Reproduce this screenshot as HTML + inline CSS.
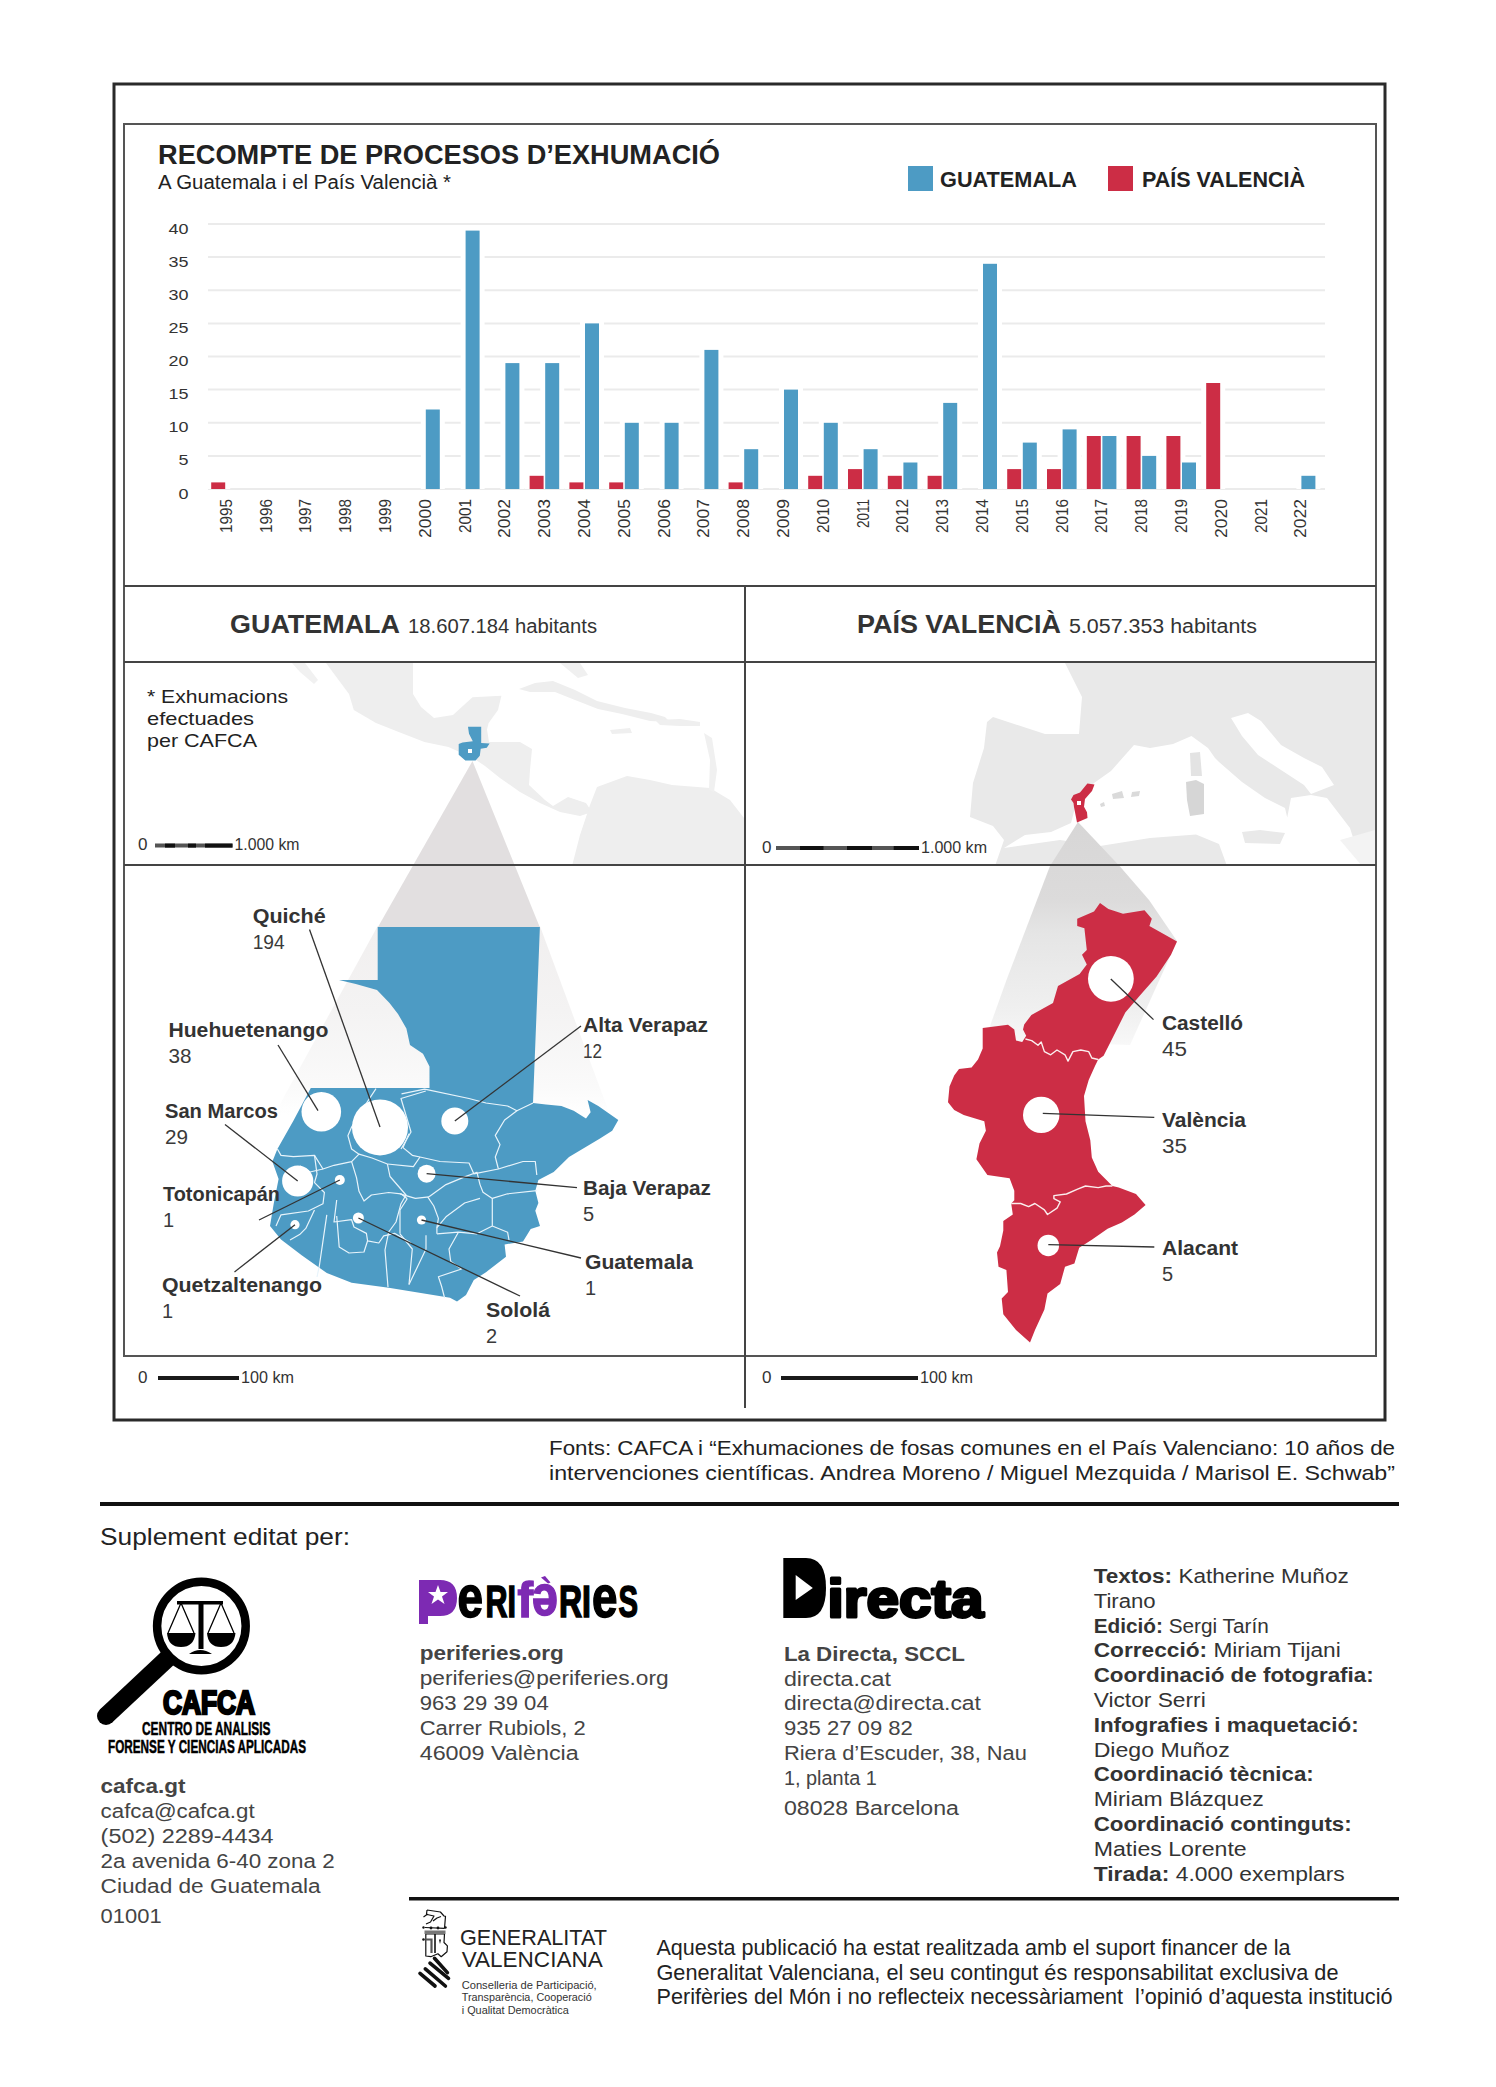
<!DOCTYPE html>
<html><head><meta charset="utf-8"><style>
html,body{margin:0;padding:0;background:#fff;}
svg{display:block;font-family:"Liberation Sans",sans-serif;}
</style></head><body>
<svg width="1496" height="2087" viewBox="0 0 1496 2087">
<rect x="114" y="84" width="1271" height="1336" fill="none" stroke="#2a2a2a" stroke-width="3"/>
<rect x="124" y="124" width="1252" height="1232" fill="none" stroke="#555" stroke-width="2"/>
<line x1="124" y1="586" x2="1376" y2="586" stroke="#444" stroke-width="2"/>
<line x1="124" y1="662" x2="1376" y2="662" stroke="#444" stroke-width="2"/>
<line x1="124" y1="865" x2="1376" y2="865" stroke="#444" stroke-width="2"/>
<line x1="745" y1="586" x2="745" y2="1408" stroke="#444" stroke-width="2"/>
<text x="158" y="164" font-size="27" font-weight="bold" fill="#222" textLength="562" lengthAdjust="spacingAndGlyphs">RECOMPTE DE PROCESOS D’EXHUMACIÓ</text>
<text x="158" y="189" font-size="20" fill="#222" textLength="293" lengthAdjust="spacingAndGlyphs">A Guatemala i el País Valencià *</text>
<rect x="908" y="166" width="25" height="25" fill="#4d9bc4"/>
<text x="940" y="187" font-size="22" font-weight="bold" fill="#222" textLength="137" lengthAdjust="spacingAndGlyphs">GUATEMALA</text>
<rect x="1108" y="166" width="25" height="25" fill="#cc2d45"/>
<text x="1142" y="187" font-size="22" font-weight="bold" fill="#222" textLength="163" lengthAdjust="spacingAndGlyphs">PAÍS VALENCIÀ</text>
<line x1="208" y1="489.0" x2="1325" y2="489.0" stroke="#ebebeb" stroke-width="2"/>
<text x="188.5" y="498.5" font-size="15.5" text-anchor="end" fill="#333" textLength="10" lengthAdjust="spacingAndGlyphs">0</text>
<line x1="208" y1="455.9" x2="1325" y2="455.9" stroke="#ebebeb" stroke-width="2"/>
<text x="188.5" y="465.4" font-size="15.5" text-anchor="end" fill="#333" textLength="10" lengthAdjust="spacingAndGlyphs">5</text>
<line x1="208" y1="422.8" x2="1325" y2="422.8" stroke="#ebebeb" stroke-width="2"/>
<text x="188.5" y="432.2" font-size="15.5" text-anchor="end" fill="#333" textLength="20" lengthAdjust="spacingAndGlyphs">10</text>
<line x1="208" y1="389.6" x2="1325" y2="389.6" stroke="#ebebeb" stroke-width="2"/>
<text x="188.5" y="399.1" font-size="15.5" text-anchor="end" fill="#333" textLength="20" lengthAdjust="spacingAndGlyphs">15</text>
<line x1="208" y1="356.5" x2="1325" y2="356.5" stroke="#ebebeb" stroke-width="2"/>
<text x="188.5" y="366.0" font-size="15.5" text-anchor="end" fill="#333" textLength="20" lengthAdjust="spacingAndGlyphs">20</text>
<line x1="208" y1="323.4" x2="1325" y2="323.4" stroke="#ebebeb" stroke-width="2"/>
<text x="188.5" y="332.9" font-size="15.5" text-anchor="end" fill="#333" textLength="20" lengthAdjust="spacingAndGlyphs">25</text>
<line x1="208" y1="290.2" x2="1325" y2="290.2" stroke="#ebebeb" stroke-width="2"/>
<text x="188.5" y="299.8" font-size="15.5" text-anchor="end" fill="#333" textLength="20" lengthAdjust="spacingAndGlyphs">30</text>
<line x1="208" y1="257.1" x2="1325" y2="257.1" stroke="#ebebeb" stroke-width="2"/>
<text x="188.5" y="266.6" font-size="15.5" text-anchor="end" fill="#333" textLength="20" lengthAdjust="spacingAndGlyphs">35</text>
<line x1="208" y1="224.0" x2="1325" y2="224.0" stroke="#ebebeb" stroke-width="2"/>
<text x="188.5" y="233.5" font-size="15.5" text-anchor="end" fill="#333" textLength="20" lengthAdjust="spacingAndGlyphs">40</text>
<rect x="206.2" y="477.4" width="24" height="11.6" fill="#fff"/>
<rect x="420.8" y="404.5" width="24" height="84.5" fill="#fff"/>
<rect x="460.6" y="225.6" width="24" height="263.4" fill="#fff"/>
<rect x="500.4" y="358.1" width="24" height="130.9" fill="#fff"/>
<rect x="524.6" y="470.8" width="24" height="18.2" fill="#fff"/>
<rect x="540.2" y="358.1" width="24" height="130.9" fill="#fff"/>
<rect x="564.4" y="477.4" width="24" height="11.6" fill="#fff"/>
<rect x="580.0" y="318.4" width="24" height="170.6" fill="#fff"/>
<rect x="604.2" y="477.4" width="24" height="11.6" fill="#fff"/>
<rect x="619.8" y="417.8" width="24" height="71.2" fill="#fff"/>
<rect x="659.6" y="417.8" width="24" height="71.2" fill="#fff"/>
<rect x="699.4" y="344.9" width="24" height="144.1" fill="#fff"/>
<rect x="723.6" y="477.4" width="24" height="11.6" fill="#fff"/>
<rect x="739.2" y="444.2" width="24" height="44.8" fill="#fff"/>
<rect x="779.0" y="384.6" width="24" height="104.4" fill="#fff"/>
<rect x="803.2" y="470.8" width="24" height="18.2" fill="#fff"/>
<rect x="818.8" y="417.8" width="24" height="71.2" fill="#fff"/>
<rect x="843.0" y="464.1" width="24" height="24.9" fill="#fff"/>
<rect x="858.6" y="444.2" width="24" height="44.8" fill="#fff"/>
<rect x="882.8" y="470.8" width="24" height="18.2" fill="#fff"/>
<rect x="898.4" y="457.5" width="24" height="31.5" fill="#fff"/>
<rect x="922.6" y="470.8" width="24" height="18.2" fill="#fff"/>
<rect x="938.2" y="397.9" width="24" height="91.1" fill="#fff"/>
<rect x="978.0" y="258.8" width="24" height="230.2" fill="#fff"/>
<rect x="1002.2" y="464.1" width="24" height="24.9" fill="#fff"/>
<rect x="1017.8" y="437.6" width="24" height="51.4" fill="#fff"/>
<rect x="1042.0" y="464.1" width="24" height="24.9" fill="#fff"/>
<rect x="1057.6" y="424.4" width="24" height="64.6" fill="#fff"/>
<rect x="1081.8" y="431.0" width="24" height="58.0" fill="#fff"/>
<rect x="1097.4" y="431.0" width="24" height="58.0" fill="#fff"/>
<rect x="1121.6" y="431.0" width="24" height="58.0" fill="#fff"/>
<rect x="1137.2" y="450.9" width="24" height="38.1" fill="#fff"/>
<rect x="1161.4" y="431.0" width="24" height="58.0" fill="#fff"/>
<rect x="1177.0" y="457.5" width="24" height="31.5" fill="#fff"/>
<rect x="1201.2" y="378.0" width="24" height="111.0" fill="#fff"/>
<rect x="1296.4" y="470.8" width="24" height="18.2" fill="#fff"/>
<rect x="211.2" y="482.4" width="14" height="6.6" fill="#cc2d45"/>
<rect x="425.8" y="409.5" width="14" height="79.5" fill="#4d9bc4"/>
<rect x="465.6" y="230.6" width="14" height="258.4" fill="#4d9bc4"/>
<rect x="505.4" y="363.1" width="14" height="125.9" fill="#4d9bc4"/>
<rect x="529.6" y="475.8" width="14" height="13.2" fill="#cc2d45"/>
<rect x="545.2" y="363.1" width="14" height="125.9" fill="#4d9bc4"/>
<rect x="569.4" y="482.4" width="14" height="6.6" fill="#cc2d45"/>
<rect x="585.0" y="323.4" width="14" height="165.6" fill="#4d9bc4"/>
<rect x="609.2" y="482.4" width="14" height="6.6" fill="#cc2d45"/>
<rect x="624.8" y="422.8" width="14" height="66.2" fill="#4d9bc4"/>
<rect x="664.6" y="422.8" width="14" height="66.2" fill="#4d9bc4"/>
<rect x="704.4" y="349.9" width="14" height="139.1" fill="#4d9bc4"/>
<rect x="728.6" y="482.4" width="14" height="6.6" fill="#cc2d45"/>
<rect x="744.2" y="449.2" width="14" height="39.8" fill="#4d9bc4"/>
<rect x="784.0" y="389.6" width="14" height="99.4" fill="#4d9bc4"/>
<rect x="808.2" y="475.8" width="14" height="13.2" fill="#cc2d45"/>
<rect x="823.8" y="422.8" width="14" height="66.2" fill="#4d9bc4"/>
<rect x="848.0" y="469.1" width="14" height="19.9" fill="#cc2d45"/>
<rect x="863.6" y="449.2" width="14" height="39.8" fill="#4d9bc4"/>
<rect x="887.8" y="475.8" width="14" height="13.2" fill="#cc2d45"/>
<rect x="903.4" y="462.5" width="14" height="26.5" fill="#4d9bc4"/>
<rect x="927.6" y="475.8" width="14" height="13.2" fill="#cc2d45"/>
<rect x="943.2" y="402.9" width="14" height="86.1" fill="#4d9bc4"/>
<rect x="983.0" y="263.8" width="14" height="225.2" fill="#4d9bc4"/>
<rect x="1007.2" y="469.1" width="14" height="19.9" fill="#cc2d45"/>
<rect x="1022.8" y="442.6" width="14" height="46.4" fill="#4d9bc4"/>
<rect x="1047.0" y="469.1" width="14" height="19.9" fill="#cc2d45"/>
<rect x="1062.6" y="429.4" width="14" height="59.6" fill="#4d9bc4"/>
<rect x="1086.8" y="436.0" width="14" height="53.0" fill="#cc2d45"/>
<rect x="1102.4" y="436.0" width="14" height="53.0" fill="#4d9bc4"/>
<rect x="1126.6" y="436.0" width="14" height="53.0" fill="#cc2d45"/>
<rect x="1142.2" y="455.9" width="14" height="33.1" fill="#4d9bc4"/>
<rect x="1166.4" y="436.0" width="14" height="53.0" fill="#cc2d45"/>
<rect x="1182.0" y="462.5" width="14" height="26.5" fill="#4d9bc4"/>
<rect x="1206.2" y="383.0" width="14" height="106.0" fill="#cc2d45"/>
<rect x="1301.4" y="475.8" width="14" height="13.2" fill="#4d9bc4"/>
<text x="0" y="0" font-size="16.5" text-anchor="end" fill="#333" textLength="34" lengthAdjust="spacingAndGlyphs" transform="translate(231.8,499) rotate(-90)">1995</text>
<text x="0" y="0" font-size="16.5" text-anchor="end" fill="#333" textLength="34" lengthAdjust="spacingAndGlyphs" transform="translate(271.6,499) rotate(-90)">1996</text>
<text x="0" y="0" font-size="16.5" text-anchor="end" fill="#333" textLength="34" lengthAdjust="spacingAndGlyphs" transform="translate(311.4,499) rotate(-90)">1997</text>
<text x="0" y="0" font-size="16.5" text-anchor="end" fill="#333" textLength="34" lengthAdjust="spacingAndGlyphs" transform="translate(351.2,499) rotate(-90)">1998</text>
<text x="0" y="0" font-size="16.5" text-anchor="end" fill="#333" textLength="34" lengthAdjust="spacingAndGlyphs" transform="translate(391.0,499) rotate(-90)">1999</text>
<text x="0" y="0" font-size="16.5" text-anchor="end" fill="#333" textLength="39" lengthAdjust="spacingAndGlyphs" transform="translate(430.8,499) rotate(-90)">2000</text>
<text x="0" y="0" font-size="16.5" text-anchor="end" fill="#333" textLength="34" lengthAdjust="spacingAndGlyphs" transform="translate(470.6,499) rotate(-90)">2001</text>
<text x="0" y="0" font-size="16.5" text-anchor="end" fill="#333" textLength="39" lengthAdjust="spacingAndGlyphs" transform="translate(510.4,499) rotate(-90)">2002</text>
<text x="0" y="0" font-size="16.5" text-anchor="end" fill="#333" textLength="39" lengthAdjust="spacingAndGlyphs" transform="translate(550.2,499) rotate(-90)">2003</text>
<text x="0" y="0" font-size="16.5" text-anchor="end" fill="#333" textLength="39" lengthAdjust="spacingAndGlyphs" transform="translate(590.0,499) rotate(-90)">2004</text>
<text x="0" y="0" font-size="16.5" text-anchor="end" fill="#333" textLength="39" lengthAdjust="spacingAndGlyphs" transform="translate(629.8,499) rotate(-90)">2005</text>
<text x="0" y="0" font-size="16.5" text-anchor="end" fill="#333" textLength="39" lengthAdjust="spacingAndGlyphs" transform="translate(669.6,499) rotate(-90)">2006</text>
<text x="0" y="0" font-size="16.5" text-anchor="end" fill="#333" textLength="39" lengthAdjust="spacingAndGlyphs" transform="translate(709.4,499) rotate(-90)">2007</text>
<text x="0" y="0" font-size="16.5" text-anchor="end" fill="#333" textLength="39" lengthAdjust="spacingAndGlyphs" transform="translate(749.2,499) rotate(-90)">2008</text>
<text x="0" y="0" font-size="16.5" text-anchor="end" fill="#333" textLength="39" lengthAdjust="spacingAndGlyphs" transform="translate(789.0,499) rotate(-90)">2009</text>
<text x="0" y="0" font-size="16.5" text-anchor="end" fill="#333" textLength="34" lengthAdjust="spacingAndGlyphs" transform="translate(828.8,499) rotate(-90)">2010</text>
<text x="0" y="0" font-size="16.5" text-anchor="end" fill="#333" textLength="29" lengthAdjust="spacingAndGlyphs" transform="translate(868.6,499) rotate(-90)">2011</text>
<text x="0" y="0" font-size="16.5" text-anchor="end" fill="#333" textLength="34" lengthAdjust="spacingAndGlyphs" transform="translate(908.4,499) rotate(-90)">2012</text>
<text x="0" y="0" font-size="16.5" text-anchor="end" fill="#333" textLength="34" lengthAdjust="spacingAndGlyphs" transform="translate(948.2,499) rotate(-90)">2013</text>
<text x="0" y="0" font-size="16.5" text-anchor="end" fill="#333" textLength="34" lengthAdjust="spacingAndGlyphs" transform="translate(988.0,499) rotate(-90)">2014</text>
<text x="0" y="0" font-size="16.5" text-anchor="end" fill="#333" textLength="34" lengthAdjust="spacingAndGlyphs" transform="translate(1027.8,499) rotate(-90)">2015</text>
<text x="0" y="0" font-size="16.5" text-anchor="end" fill="#333" textLength="34" lengthAdjust="spacingAndGlyphs" transform="translate(1067.6,499) rotate(-90)">2016</text>
<text x="0" y="0" font-size="16.5" text-anchor="end" fill="#333" textLength="34" lengthAdjust="spacingAndGlyphs" transform="translate(1107.4,499) rotate(-90)">2017</text>
<text x="0" y="0" font-size="16.5" text-anchor="end" fill="#333" textLength="34" lengthAdjust="spacingAndGlyphs" transform="translate(1147.2,499) rotate(-90)">2018</text>
<text x="0" y="0" font-size="16.5" text-anchor="end" fill="#333" textLength="34" lengthAdjust="spacingAndGlyphs" transform="translate(1187.0,499) rotate(-90)">2019</text>
<text x="0" y="0" font-size="16.5" text-anchor="end" fill="#333" textLength="39" lengthAdjust="spacingAndGlyphs" transform="translate(1226.8,499) rotate(-90)">2020</text>
<text x="0" y="0" font-size="16.5" text-anchor="end" fill="#333" textLength="34" lengthAdjust="spacingAndGlyphs" transform="translate(1266.6,499) rotate(-90)">2021</text>
<text x="0" y="0" font-size="16.5" text-anchor="end" fill="#333" textLength="39" lengthAdjust="spacingAndGlyphs" transform="translate(1306.4,499) rotate(-90)">2022</text>
<text x="230" y="633" font-size="26" font-weight="bold" fill="#333" textLength="170" lengthAdjust="spacingAndGlyphs">GUATEMALA</text>
<text x="408" y="633" font-size="20" fill="#333" textLength="189" lengthAdjust="spacingAndGlyphs">18.607.184 habitants</text>
<text x="857" y="633" font-size="26" font-weight="bold" fill="#333" textLength="204" lengthAdjust="spacingAndGlyphs">PAÍS VALENCIÀ</text>
<text x="1069" y="633" font-size="20" fill="#333" textLength="188" lengthAdjust="spacingAndGlyphs">5.057.353 habitants</text>
<defs><clipPath id="cl"><rect x="125" y="663" width="619" height="201"/></clipPath><clipPath id="cr"><rect x="746" y="663" width="629" height="201"/></clipPath><linearGradient id="gg" x1="0" y1="927" x2="0" y2="1115" gradientUnits="userSpaceOnUse"><stop offset="0" stop-color="#f1efef"/><stop offset="0.45" stop-color="#f4f3f3"/><stop offset="0.85" stop-color="#fafafa"/><stop offset="1" stop-color="#ffffff"/></linearGradient><linearGradient id="gv" x1="0" y1="822" x2="0" y2="1045" gradientUnits="userSpaceOnUse"><stop offset="0" stop-color="#d7d6d6"/><stop offset="0.35" stop-color="#dcdbdb"/><stop offset="0.5" stop-color="#e5e5e5"/><stop offset="0.85" stop-color="#f0f0f0"/><stop offset="1" stop-color="#f8f8f8"/></linearGradient></defs>
<g clip-path="url(#cl)">
<polygon points="292.0,663.0 305.0,663.0 318.0,680.0 314.0,684.0 300.0,672.0" fill="#f1f1f1"/>
<polygon points="326.0,663.0 413.0,663.0 413.0,694.0 421.0,707.0 434.0,718.0 453.0,715.0 472.5,697.3 501.4,695.7 498.0,710.0 488.6,723.0 487.0,729.4 489.0,742.0 484.0,750.0 470.0,754.0 459.7,752.0 448.5,747.0 424.4,742.0 400.0,732.6 376.0,723.0 353.8,710.0 349.0,694.0" fill="#eeeeee"/>
<polygon points="480.0,742.0 500.0,742.0 520.0,742.0 532.0,749.0 530.0,770.0 529.0,785.0 545.0,800.0 553.0,806.0 568.0,797.0 586.0,803.0 592.0,812.0 580.0,816.0 560.0,812.0 540.0,803.0 520.0,792.0 500.0,778.0 485.0,766.0 476.0,760.0" fill="#eeeeee"/>
<polygon points="572.0,866.0 580.0,835.0 590.0,805.0 597.0,787.0 627.0,776.0 650.0,780.0 672.0,785.0 710.0,788.0 730.0,800.0 744.0,818.0 745.0,866.0" fill="#eeeeee"/>
<polygon points="519.0,689.0 535.0,683.0 553.0,681.0 575.0,690.0 597.0,701.0 625.0,708.0 651.0,713.0 665.0,717.0 670.0,722.0 650.0,721.0 622.0,714.0 598.0,709.0 575.0,700.0 555.0,692.0 530.0,692.0" fill="#eeeeee"/>
<polygon points="655.0,720.0 680.0,719.0 700.0,722.0 700.0,726.0 680.0,726.0 660.0,725.0" fill="#efefef"/>
<polygon points="610.0,730.0 630.0,728.0 632.0,733.0 612.0,734.0" fill="#efefef"/>
<polygon points="560.0,663.0 580.0,663.0 588.0,675.0 578.0,678.0" fill="#f0f0f0"/>
<polygon points="704.0,733.0 712.0,738.0 717.0,770.0 714.0,792.0 709.0,790.0 710.0,760.0" fill="#f0f0f0"/>
</g>
<g clip-path="url(#cr)">
<rect x="746" y="663" width="629" height="203" fill="#e9e9e9"/>
<polygon points="746.0,663.0 1065.0,663.0 1082.0,697.0 1079.0,734.0 1045.0,734.0 993.0,717.0 987.0,722.0 984.0,748.0 973.0,783.0 970.0,817.0 993.0,826.0 1004.0,840.0 995.0,866.0 746.0,866.0" fill="#ffffff"/>
<polygon points="1004.0,848.0 1025.0,835.0 1051.0,832.0 1071.0,823.0 1077.0,800.0 1094.0,783.0 1111.0,771.0 1134.0,745.0 1150.0,748.0 1173.0,744.0 1191.5,736.0 1208.0,748.0 1215.0,758.0 1219.0,762.0 1242.0,782.0 1265.0,798.0 1285.0,808.0 1288.0,821.0 1284.0,834.0 1291.0,798.0 1311.0,795.0 1327.0,798.0 1350.0,828.0 1362.0,866.0 1227.0,866.0 1219.0,844.0 1196.0,834.5 1150.0,838.0 1100.0,846.0 1060.0,840.0" fill="#ffffff"/>
<polygon points="1231.0,718.0 1248.0,713.0 1261.0,721.0 1281.0,745.0 1304.0,758.0 1322.0,767.0 1334.0,785.0 1311.0,794.0 1304.0,785.0 1281.0,770.0 1258.0,755.0 1242.0,736.0" fill="#ffffff"/>
<polygon points="1362.0,866.0 1340.0,840.0 1375.0,830.0 1375.0,866.0" fill="#f3f3f3"/>
<polygon points="1242.0,832.0 1260.0,830.0 1285.0,833.0 1280.0,844.0 1245.0,843.0" fill="#e9e9e9"/>
<polygon points="1190.0,753.0 1200.0,752.0 1202.0,776.0 1191.0,776.0" fill="#e3e3e3"/>
<polygon points="1186.0,782.0 1196.0,780.0 1204.0,784.0 1204.0,814.0 1190.0,816.0 1187.0,800.0" fill="#d6d6d6"/>
<polygon points="1112.0,794.0 1122.0,791.0 1124.0,798.0 1113.0,799.0" fill="#dadada"/>
<polygon points="1132.0,792.0 1140.0,791.0 1139.0,796.0 1131.0,797.0" fill="#dadada"/>
<polygon points="1100.0,804.0 1104.0,802.0 1105.0,806.0 1101.0,807.0" fill="#dadada"/>
</g>
<polygon points="377.7,926 274,1115 610,1115 539.9,926" fill="url(#gg)"/><polygon points="472.5,761 377.7,927.5 539.9,927.5" fill="#e2dfe0"/>
<polygon points="1078,822 1120,866.5 1149,900 1177,941 1130,1045 985,1040 1006.5,980 1050,866" fill="url(#gv)"/>
<line x1="124" y1="865" x2="1376" y2="865" stroke="#444" stroke-width="2"/>
<path d="M468,726.7 L481.2,726.7 L481.2,743 L489.6,743.5 L486.8,747.8 L480.7,748.7 L479.8,755.7 L475.6,760.5 L465.3,760.5 L458.7,754.8 L458.7,744 L462.5,742.6 L472.8,741.2 L469,733.7 Z" fill="#4d9bc4"/>
<rect x="468" y="749" width="4" height="4" fill="#fff"/>
<path d="M1087.4,783.5 L1094.5,784.5 L1092,791 L1085,799 L1084,806.8 L1087,812.3 L1087.5,818 L1077,822.5 L1074,807 L1073.5,803 L1071,799.4 L1073.5,795 L1080,792.5 Z" fill="#cc2d45"/>
<rect x="1077" y="801" width="4" height="4" fill="#fff"/>
<path d="M377.7,927.0 L539.9,927.0 L533.0,1103.0 L546.0,1104.6 L561.4,1106.0 L573.7,1110.7 L586.0,1118.4 L590.6,1112.3 L587.6,1100.0 L598.3,1106.0 L618.3,1120.0 L612.2,1130.7 L600.0,1138.4 L584.5,1147.7 L569.0,1157.0 L553.7,1172.0 L538.4,1180.0 L535.3,1190.7 L538.4,1203.0 L535.3,1210.7 L540.0,1226.0 L530.7,1229.0 L523.0,1241.4 L504.6,1244.5 L506.0,1256.8 L486.0,1272.2 L473.8,1280.0 L466.0,1295.0 L457.0,1301.4 L450.0,1297.7 L388.7,1287.8 L351.6,1282.8 L326.8,1273.0 L302.0,1255.6 L281.0,1239.5 L270.0,1226.0 L273.7,1203.7 L278.6,1179.0 L272.4,1161.6 L277.4,1149.0 L293.4,1120.8 L310.8,1088.0 L429.5,1088.0 L429.5,1066.4 L423.0,1053.7 L410.0,1045.0 L406.4,1028.4 L398.0,1014.0 L389.5,1003.0 L377.0,990.0 L355.8,984.0 L339.0,980.0 L377.7,980.0 Z" fill="#4d9bc4"/>
<g fill="none" stroke="#e8f4fb" stroke-width="1.2" stroke-linejoin="round">
<polyline points="277.4,1149.0 281.0,1155.4 293.4,1156.7 314.5,1155.4 323.0,1169.0 334.0,1165.3 351.6,1161.6 359.0,1154.2 351.6,1149.0 347.9,1135.7 351.6,1127.0 362.0,1110.0 376.0,1088.7"/>
<polyline points="314.5,1155.4 317.0,1174.0 314.5,1182.6 324.4,1192.5 323.0,1203.7 308.3,1211.0 281.0,1214.8 276.0,1226.0"/>
<polyline points="314.5,1210.0 305.8,1228.4 299.6,1234.6 290.0,1240.0"/>
<polyline points="351.6,1161.6 356.5,1177.7 359.0,1191.3 364.0,1201.0 371.4,1195.0 388.7,1192.5 401.0,1193.8 407.2,1198.7"/>
<polyline points="336.7,1200.0 334.0,1222.0 351.6,1219.7 354.0,1227.0 366.4,1233.4 367.6,1240.8 378.8,1243.0 383.7,1235.8 394.9,1233.4 411.0,1243.0"/>
<polyline points="326.8,1214.8 323.0,1240.8 319.4,1265.5 317.0,1277.0"/>
<polyline points="336.7,1216.0 339.2,1247.0 349.0,1253.0 364.0,1252.0 367.6,1240.8"/>
<polyline points="387.4,1164.0 390.0,1176.5 406.0,1195.0 401.0,1203.7 396.0,1222.0 388.7,1232.0 385.0,1250.0 388.0,1287.0"/>
<polyline points="387.4,1164.0 413.4,1166.6 420.0,1157.0"/>
<polyline points="401.0,1149.0 411.0,1132.0 401.0,1098.5 425.8,1091.0"/>
<polyline points="323.0,1169.0 310.0,1172.0 300.0,1166.0"/>
<polyline points="359.0,1154.2 372.0,1158.0 387.4,1164.0"/>
<polyline points="401.5,1093.8 424.6,1089.2 469.0,1098.5 486.0,1103.0 507.6,1106.0 516.9,1110.7 533.0,1103.0"/>
<polyline points="516.9,1110.7 504.6,1120.0 495.3,1135.4 500.0,1144.6 495.3,1157.0 498.4,1169.0"/>
<polyline points="420.0,1157.0 440.0,1161.5 469.0,1163.0 473.8,1173.8 498.4,1169.0 523.0,1161.5 535.3,1161.5 536.8,1175.0"/>
<polyline points="429.0,1196.8 446.0,1184.6 464.6,1176.9 477.0,1172.3 480.0,1184.6 483.0,1192.2 492.3,1198.4 507.6,1193.8 536.8,1190.7"/>
<polyline points="480.0,1198.4 464.6,1203.0 446.0,1216.8 436.9,1227.6 436.9,1233.8"/>
<polyline points="492.3,1198.4 492.3,1226.0 476.9,1233.8 458.4,1232.2 436.9,1233.8"/>
<polyline points="492.3,1226.0 507.6,1232.2 509.0,1240.0"/>
<polyline points="427.7,1196.8 433.8,1206.0 438.4,1218.4 436.9,1227.6"/>
<polyline points="426.0,1235.3 426.0,1249.0 409.0,1284.5"/>
<polyline points="458.4,1232.2 449.0,1249.0 450.7,1261.4 461.5,1269.0 438.4,1276.8 441.5,1286.0 444.6,1298.0"/>
<polyline points="409.0,1133.8 403.0,1147.6 412.3,1155.3 420.0,1157.0"/>
<polyline points="400.0,1193.8 415.4,1198.4 429.0,1196.8"/>
<polyline points="400.0,1233.8 412.3,1249.0 409.0,1284.5"/>
<polyline points="407.2,1198.7 400.0,1210.0 400.0,1233.8"/>
</g>
<circle cx="321.3" cy="1111.8" r="19.8" fill="#fff"/>
<circle cx="380" cy="1127.4" r="28" fill="#fff"/>
<circle cx="454.8" cy="1121" r="13.5" fill="#fff"/>
<circle cx="297.7" cy="1181" r="15.6" fill="#fff"/>
<circle cx="339.8" cy="1180" r="5" fill="#fff"/>
<circle cx="426.6" cy="1173.7" r="9" fill="#fff"/>
<circle cx="295" cy="1224.7" r="4.6" fill="#fff"/>
<circle cx="358.4" cy="1218" r="5.5" fill="#fff"/>
<circle cx="421.5" cy="1220" r="4.6" fill="#fff"/>
<g stroke="#333" stroke-width="1.3" fill="none">
<line x1="309.5" y1="929.5" x2="380" y2="1127"/>
<line x1="278" y1="1045" x2="318" y2="1110.6"/>
<line x1="581" y1="1026" x2="454.8" y2="1121"/>
<line x1="225" y1="1124.5" x2="297.7" y2="1181"/>
<line x1="259" y1="1220" x2="339.8" y2="1180"/>
<line x1="234.5" y1="1271.9" x2="295" y2="1224.7"/>
<line x1="577" y1="1187.6" x2="426.6" y2="1173.7"/>
<line x1="581" y1="1258" x2="421.5" y2="1220"/>
<line x1="520" y1="1296" x2="358.4" y2="1218"/>
</g>
<path d="M1100.0,903.0 L1108.4,909.0 L1123.0,913.8 L1144.5,910.2 L1151.8,918.7 L1149.4,925.9 L1177.0,941.5 L1171.0,954.8 L1156.6,976.4 L1139.7,995.7 L1125.3,1012.5 L1113.3,1036.6 L1103.6,1055.8 L1098.2,1059.5 L1095.0,1065.9 L1088.7,1080.0 L1084.0,1096.0 L1085.5,1121.2 L1090.3,1140.2 L1091.8,1157.6 L1098.2,1171.8 L1112.4,1186.0 L1118.7,1187.6 L1136.0,1194.0 L1145.6,1205.0 L1134.5,1214.5 L1121.9,1222.4 L1107.6,1228.8 L1091.8,1239.8 L1079.2,1247.7 L1074.4,1263.6 L1065.0,1266.7 L1060.2,1284.0 L1047.5,1293.6 L1044.4,1309.4 L1035.0,1330.0 L1030.0,1342.6 L1016.0,1330.0 L1003.3,1314.2 L1001.7,1298.4 L1008.0,1292.0 L1006.4,1270.0 L998.5,1266.7 L997.0,1252.5 L1000.0,1246.2 L1003.3,1230.4 L1003.3,1220.9 L1012.8,1214.5 L1011.2,1203.5 L1014.3,1200.3 L1014.3,1190.8 L1009.6,1178.2 L987.4,1175.0 L976.4,1159.2 L979.5,1143.4 L985.9,1130.7 L984.3,1121.2 L963.7,1115.0 L954.2,1110.0 L948.0,1102.2 L949.5,1086.4 L954.2,1075.4 L959.0,1069.0 L971.6,1067.4 L978.0,1059.5 L982.7,1048.5 L982.7,1027.9 L1008.0,1024.7 L1014.3,1029.5 L1016.0,1040.6 L1022.2,1042.0 L1026.2,1035.8 L1023.0,1029.4 L1024.2,1024.5 L1031.4,1015.0 L1053.0,1003.0 L1058.0,986.0 L1079.6,974.0 L1086.8,964.4 L1082.0,954.8 L1086.8,950.0 L1084.4,928.3 L1077.2,925.9 L1077.2,918.7 L1094.0,911.4 Z" fill="#cc2d45"/>
<g fill="none" stroke="#fbeeee" stroke-width="1.4" stroke-linejoin="round">
<polyline points="1025.4,1039.0 1031.7,1040.6 1038.0,1045.3 1041.2,1042.0 1044.4,1051.6 1050.7,1054.8 1057.0,1050.0 1065.0,1054.8 1068.0,1061.1 1072.9,1051.6 1080.8,1050.0 1088.7,1051.6 1091.8,1058.0 1098.2,1059.5"/>
<polyline points="1011.2,1203.5 1020.7,1203.5 1028.6,1206.6 1034.9,1203.5 1044.4,1209.8 1047.5,1214.5 1057.0,1208.2 1060.2,1201.9 1053.9,1198.7 1053.9,1195.6 1066.5,1194.0 1077.6,1189.2 1085.5,1186.0 1098.2,1187.6 1106.0,1186.0 1112.4,1186.0"/>
</g>
<circle cx="1110.9" cy="978.8" r="22.9" fill="#fff"/>
<circle cx="1041.2" cy="1114.9" r="18.2" fill="#fff"/>
<circle cx="1048.3" cy="1245.4" r="10.75" fill="#fff"/>
<g stroke="#333" stroke-width="1.3" fill="none"><line x1="1110.8" y1="979" x2="1153.5" y2="1019.6"/><line x1="1042.8" y1="1113.3" x2="1154.3" y2="1117.3"/><line x1="1048.3" y1="1244.6" x2="1154.3" y2="1247"/></g>
<text x="252.7" y="923.0" font-size="20" font-weight="bold" fill="#333" textLength="73" lengthAdjust="spacingAndGlyphs">Quiché</text>
<text x="252.7" y="949.0" font-size="20" fill="#3a3a3a" textLength="32" lengthAdjust="spacingAndGlyphs">194</text>
<text x="168.4" y="1037.0" font-size="20" font-weight="bold" fill="#333" textLength="160" lengthAdjust="spacingAndGlyphs">Huehuetenango</text>
<text x="168.4" y="1063.0" font-size="20" fill="#3a3a3a" textLength="23" lengthAdjust="spacingAndGlyphs">38</text>
<text x="165" y="1118.4" font-size="20" font-weight="bold" fill="#333" textLength="113" lengthAdjust="spacingAndGlyphs">San Marcos</text>
<text x="165" y="1144.4" font-size="20" fill="#3a3a3a" textLength="23" lengthAdjust="spacingAndGlyphs">29</text>
<text x="163" y="1201.0" font-size="20" font-weight="bold" fill="#333" textLength="117" lengthAdjust="spacingAndGlyphs">Totonicapán</text>
<text x="163" y="1227.0" font-size="20" fill="#3a3a3a">1</text>
<text x="162" y="1292.0" font-size="20" font-weight="bold" fill="#333" textLength="160" lengthAdjust="spacingAndGlyphs">Quetzaltenango</text>
<text x="162" y="1318.0" font-size="20" fill="#3a3a3a">1</text>
<text x="583" y="1031.6" font-size="20" font-weight="bold" fill="#333" textLength="125" lengthAdjust="spacingAndGlyphs">Alta Verapaz</text>
<text x="583" y="1057.6" font-size="20" fill="#3a3a3a" textLength="19" lengthAdjust="spacingAndGlyphs">12</text>
<text x="583" y="1195.0" font-size="20" font-weight="bold" fill="#333" textLength="128" lengthAdjust="spacingAndGlyphs">Baja Verapaz</text>
<text x="583" y="1221.0" font-size="20" fill="#3a3a3a">5</text>
<text x="585" y="1268.7" font-size="20" font-weight="bold" fill="#333" textLength="108" lengthAdjust="spacingAndGlyphs">Guatemala</text>
<text x="585" y="1294.7" font-size="20" fill="#3a3a3a">1</text>
<text x="486" y="1317.0" font-size="20" font-weight="bold" fill="#333" textLength="64" lengthAdjust="spacingAndGlyphs">Sololá</text>
<text x="486" y="1343.0" font-size="20" fill="#3a3a3a">2</text>
<text x="1162" y="1030.3" font-size="20" font-weight="bold" fill="#333" textLength="81" lengthAdjust="spacingAndGlyphs">Castelló</text>
<text x="1162" y="1056.3" font-size="20" fill="#3a3a3a" textLength="25" lengthAdjust="spacingAndGlyphs">45</text>
<text x="1162" y="1126.5" font-size="20" font-weight="bold" fill="#333" textLength="84" lengthAdjust="spacingAndGlyphs">València</text>
<text x="1162" y="1152.5" font-size="20" fill="#3a3a3a" textLength="25" lengthAdjust="spacingAndGlyphs">35</text>
<text x="1162" y="1255.0" font-size="20" font-weight="bold" fill="#333" textLength="76" lengthAdjust="spacingAndGlyphs">Alacant</text>
<text x="1162" y="1281.0" font-size="20" fill="#3a3a3a">5</text>
<text x="147" y="703" font-size="19" fill="#222" textLength="141" lengthAdjust="spacingAndGlyphs">* Exhumacions</text>
<text x="147" y="725" font-size="19" fill="#222" textLength="107" lengthAdjust="spacingAndGlyphs">efectuades</text>
<text x="147" y="747" font-size="19" fill="#222" textLength="110" lengthAdjust="spacingAndGlyphs">per CAFCA</text>
<text x="138" y="850.4" font-size="16" fill="#333" textLength="9.5" lengthAdjust="spacingAndGlyphs">0</text>
<line x1="155" y1="845.6" x2="232.5" y2="845.6" stroke="#555" stroke-width="4"/>
<line x1="165" y1="845.6" x2="175" y2="845.6" stroke="#111" stroke-width="4"/>
<line x1="188" y1="845.6" x2="196" y2="845.6" stroke="#111" stroke-width="4"/>
<line x1="205" y1="845.6" x2="232.5" y2="845.6" stroke="#111" stroke-width="4"/>
<text x="234.5" y="850.4" font-size="16" fill="#333" textLength="65" lengthAdjust="spacingAndGlyphs">1.000 km</text>
<text x="762" y="852.8" font-size="16" fill="#333" textLength="9.5" lengthAdjust="spacingAndGlyphs">0</text>
<line x1="776" y1="848" x2="919" y2="848" stroke="#555" stroke-width="4"/>
<line x1="800" y1="848" x2="823.5" y2="848" stroke="#111" stroke-width="4"/>
<line x1="847" y1="848" x2="872" y2="848" stroke="#111" stroke-width="4"/>
<line x1="893.7" y1="848" x2="919" y2="848" stroke="#111" stroke-width="4"/>
<text x="921" y="852.8" font-size="16" fill="#333" textLength="66" lengthAdjust="spacingAndGlyphs">1.000 km</text>
<text x="138" y="1382.8" font-size="16" fill="#333" textLength="9.5" lengthAdjust="spacingAndGlyphs">0</text>
<line x1="158" y1="1378" x2="239" y2="1378" stroke="#555" stroke-width="4"/>
<line x1="158" y1="1378" x2="239" y2="1378" stroke="#1a1a1a" stroke-width="4"/>
<text x="241" y="1382.8" font-size="16" fill="#333" textLength="53" lengthAdjust="spacingAndGlyphs">100 km</text>
<text x="762" y="1382.8" font-size="16" fill="#333" textLength="9.5" lengthAdjust="spacingAndGlyphs">0</text>
<line x1="781" y1="1378" x2="918" y2="1378" stroke="#555" stroke-width="4"/>
<line x1="781" y1="1378" x2="918" y2="1378" stroke="#1a1a1a" stroke-width="4"/>
<text x="920" y="1382.8" font-size="16" fill="#333" textLength="53" lengthAdjust="spacingAndGlyphs">100 km</text>
<text x="549" y="1454.8" font-size="21" fill="#222" textLength="846" lengthAdjust="spacingAndGlyphs">Fonts: CAFCA i “Exhumaciones de fosas comunes en el País Valenciano: 10 años de</text>
<text x="549" y="1479.5" font-size="21" fill="#222" textLength="846" lengthAdjust="spacingAndGlyphs">intervenciones científicas. Andrea Moreno / Miguel Mezquida / Marisol E. Schwab”</text>
<rect x="100" y="1502" width="1299" height="4" fill="#111"/>
<text x="100" y="1545" font-size="24" fill="#222" textLength="250" lengthAdjust="spacingAndGlyphs">Suplement editat per:</text>
<g fill="#000"><circle cx="201.4" cy="1626" r="44.3" fill="none" stroke="#000" stroke-width="8.5"/><line x1="169.7" y1="1656.4" x2="106" y2="1716" stroke="#000" stroke-width="18"/><circle cx="106" cy="1716" r="9"/><rect x="177" y="1601" width="46" height="3.5"/><rect x="198.5" y="1602" width="5" height="47"/><path d="M189,1654 Q200,1646 212,1654 Z"/><path d="M167,1633 L195.5,1633 Q194,1647 181,1647 Q168,1647 167,1633 Z"/><path d="M207,1633 L235.5,1633 Q234,1647 221,1647 Q208,1647 207,1633 Z"/></g><g stroke="#000" stroke-width="1.3" fill="none"><path d="M181,1603 L168,1633 M181,1603 L194,1633 M221,1603 L208,1633 M221,1603 L234,1633"/></g>
<text x="163" y="1714" font-size="33" font-weight="bold" fill="#000" textLength="92" lengthAdjust="spacingAndGlyphs" stroke="#000" stroke-width="2.6">CAFCA</text>
<text x="142" y="1735.4" font-size="19" font-weight="bold" fill="#000" textLength="128.5" lengthAdjust="spacingAndGlyphs" stroke="#000" stroke-width="0.5">CENTRO DE ANALISIS</text>
<text x="108" y="1753" font-size="19" font-weight="bold" fill="#000" textLength="198" lengthAdjust="spacingAndGlyphs" stroke="#000" stroke-width="0.5">FORENSE Y CIENCIAS APLICADAS</text>
<text x="100.6" y="1792.7" font-size="20" font-weight="bold" fill="#444" textLength="85" lengthAdjust="spacingAndGlyphs">cafca.gt</text>
<text x="100.6" y="1817.7" font-size="20" fill="#444" textLength="154" lengthAdjust="spacingAndGlyphs">cafca@cafca.gt</text>
<text x="100.6" y="1842.7" font-size="20" fill="#444" textLength="173" lengthAdjust="spacingAndGlyphs">(502) 2289-4434</text>
<text x="100.6" y="1867.7" font-size="20" fill="#444" textLength="234" lengthAdjust="spacingAndGlyphs">2a avenida 6-40 zona 2</text>
<text x="100.6" y="1892.7" font-size="20" fill="#444" textLength="220" lengthAdjust="spacingAndGlyphs">Ciudad de Guatemala</text>
<text x="100.6" y="1923" font-size="20" fill="#444" textLength="61" lengthAdjust="spacingAndGlyphs">01001</text>
<path d="M419,1580 L440,1580 Q457,1580 457,1598 Q457,1616 440,1616 L428,1616 L428,1624 L419,1624 Z" fill="#7d2ab3"/>
<polygon points="438,1585 440.5,1592 448,1592 442,1596.5 444.5,1604 438,1599.5 431.5,1604 434,1596.5 428,1592 435.5,1592" fill="#fff"/>
<text x="457.5" y="1616.5" font-size="60" font-weight="bold" fill="#000" textLength="25.5" lengthAdjust="spacingAndGlyphs" stroke="#000" stroke-width="1.6">e</text>
<text x="485.5" y="1616.5" font-size="45" font-weight="bold" fill="#000" textLength="30.5" lengthAdjust="spacingAndGlyphs" stroke="#000" stroke-width="1.6">RI</text>
<text x="517.5" y="1616.5" font-size="50" font-weight="bold" fill="#7d2ab3" textLength="15.5" lengthAdjust="spacingAndGlyphs" stroke="#7d2ab3" stroke-width="1.6">f</text>
<text x="0" y="0" font-size="58" font-weight="bold" fill="#7d2ab3" textLength="26" lengthAdjust="spacingAndGlyphs" stroke="#7d2ab3" stroke-width="1.6" transform="translate(558,1585) rotate(180)">e</text>
<polygon points="541,1577.5 545,1576 550.5,1582.5 548,1583.5" fill="#7d2ab3"/>
<text x="559" y="1616.5" font-size="45" font-weight="bold" fill="#000" textLength="32" lengthAdjust="spacingAndGlyphs" stroke="#000" stroke-width="1.6">RI</text>
<text x="592" y="1616.5" font-size="60" font-weight="bold" fill="#000" textLength="25.5" lengthAdjust="spacingAndGlyphs" stroke="#000" stroke-width="1.6">e</text>
<text x="618.5" y="1616.5" font-size="45" font-weight="bold" fill="#000" textLength="19.5" lengthAdjust="spacingAndGlyphs" stroke="#000" stroke-width="1.6">S</text>
<text x="419.7" y="1660.0" font-size="20" font-weight="bold" fill="#444" textLength="144" lengthAdjust="spacingAndGlyphs">periferies.org</text>
<text x="419.7" y="1685.0" font-size="20" fill="#444" textLength="249" lengthAdjust="spacingAndGlyphs">periferies@periferies.org</text>
<text x="419.7" y="1710.0" font-size="20" fill="#444" textLength="129" lengthAdjust="spacingAndGlyphs">963 29 39 04</text>
<text x="419.7" y="1735.0" font-size="20" fill="#444" textLength="166" lengthAdjust="spacingAndGlyphs">Carrer Rubiols, 2</text>
<text x="419.7" y="1760.0" font-size="20" fill="#444" textLength="159" lengthAdjust="spacingAndGlyphs">46009 València</text>
<path d="M783.3,1558 L806,1558 Q826,1558 826,1588 Q826,1618 806,1618 L783.3,1618 Z" fill="#000"/>
<polygon points="795.7,1575 812.8,1588 795.7,1600" fill="#fff"/>
<text x="827.5" y="1617" font-size="53" font-weight="bold" fill="#000" textLength="156" lengthAdjust="spacingAndGlyphs" stroke="#000" stroke-width="3" stroke-linejoin="round">irecta</text>
<text x="783.9" y="1661.0" font-size="20" font-weight="bold" fill="#444" textLength="181" lengthAdjust="spacingAndGlyphs">La Directa, SCCL</text>
<text x="783.9" y="1685.7" font-size="20" fill="#444" textLength="107" lengthAdjust="spacingAndGlyphs">directa.cat</text>
<text x="783.9" y="1710.4" font-size="20" fill="#444" textLength="197" lengthAdjust="spacingAndGlyphs">directa@directa.cat</text>
<text x="783.9" y="1735.1" font-size="20" fill="#444" textLength="129" lengthAdjust="spacingAndGlyphs">935 27 09 82</text>
<text x="783.9" y="1759.8" font-size="20" fill="#444" textLength="243" lengthAdjust="spacingAndGlyphs">Riera d’Escuder, 38, Nau</text>
<text x="783.9" y="1784.5" font-size="20" fill="#444" textLength="93" lengthAdjust="spacingAndGlyphs">1, planta 1</text>
<text x="783.9" y="1815" font-size="20" fill="#444" textLength="175" lengthAdjust="spacingAndGlyphs">08028 Barcelona</text>
<text x="1093.7" y="1583.0" font-size="20" fill="#333" textLength="255" lengthAdjust="spacingAndGlyphs" xml:space="preserve"><tspan font-weight="bold">Textos:</tspan><tspan font-weight="normal"> Katherine Muñoz</tspan></text>
<text x="1093.7" y="1607.8" font-size="20" fill="#333" textLength="62" lengthAdjust="spacingAndGlyphs" xml:space="preserve"><tspan font-weight="normal">Tirano</tspan></text>
<text x="1093.7" y="1632.6" font-size="20" fill="#333" textLength="175" lengthAdjust="spacingAndGlyphs" xml:space="preserve"><tspan font-weight="bold">Edició:</tspan><tspan font-weight="normal"> Sergi Tarín</tspan></text>
<text x="1093.7" y="1657.4" font-size="20" fill="#333" textLength="247" lengthAdjust="spacingAndGlyphs" xml:space="preserve"><tspan font-weight="bold">Correcció:</tspan><tspan font-weight="normal"> Miriam Tijani</tspan></text>
<text x="1093.7" y="1682.2" font-size="20" fill="#333" textLength="280" lengthAdjust="spacingAndGlyphs" xml:space="preserve"><tspan font-weight="bold">Coordinació de fotografia:</tspan></text>
<text x="1093.7" y="1707.0" font-size="20" fill="#333" textLength="112" lengthAdjust="spacingAndGlyphs" xml:space="preserve"><tspan font-weight="normal">Victor Serri</tspan></text>
<text x="1093.7" y="1731.8" font-size="20" fill="#333" textLength="265" lengthAdjust="spacingAndGlyphs" xml:space="preserve"><tspan font-weight="bold">Infografies i maquetació:</tspan></text>
<text x="1093.7" y="1756.6" font-size="20" fill="#333" textLength="136" lengthAdjust="spacingAndGlyphs" xml:space="preserve"><tspan font-weight="normal">Diego Muñoz</tspan></text>
<text x="1093.7" y="1781.4" font-size="20" fill="#333" textLength="220" lengthAdjust="spacingAndGlyphs" xml:space="preserve"><tspan font-weight="bold">Coordinació tècnica:</tspan></text>
<text x="1093.7" y="1806.2" font-size="20" fill="#333" textLength="170" lengthAdjust="spacingAndGlyphs" xml:space="preserve"><tspan font-weight="normal">Miriam Blázquez</tspan></text>
<text x="1093.7" y="1831.0" font-size="20" fill="#333" textLength="258" lengthAdjust="spacingAndGlyphs" xml:space="preserve"><tspan font-weight="bold">Coordinació continguts:</tspan></text>
<text x="1093.7" y="1855.8" font-size="20" fill="#333" textLength="153" lengthAdjust="spacingAndGlyphs" xml:space="preserve"><tspan font-weight="normal">Maties Lorente</tspan></text>
<text x="1093.7" y="1880.6" font-size="20" fill="#333" textLength="251" lengthAdjust="spacingAndGlyphs" xml:space="preserve"><tspan font-weight="bold">Tirada:</tspan><tspan font-weight="normal"> 4.000 exemplars</tspan></text>
<rect x="409" y="1897" width="990" height="3.5" fill="#111"/>
<g fill="none" stroke="#111" stroke-width="1.2" stroke-linejoin="round"><path d="M427,1910 L440.4,1912 L444,1916 L445.5,1916.3 L444.5,1928.4 M427,1910 L426.5,1914 L428,1914.5 M423.5,1917 L427,1914.5 L434,1916 L430.5,1922 L426,1924 M433,1921 L437,1918 L441,1916.5 M425,1927.5 L444.5,1928.4"/><path d="M425.8,1934 L444.5,1934 L444,1942.5 L447.4,1945.9 L447,1951.7 L441.2,1956.7 L437.9,1953.8 L430.8,1956.7 L425.8,1956 Z"/></g><rect x="424.5" y="1930.5" width="21" height="3.5" fill="#777"/><circle cx="431" cy="1928" r="1.4" fill="#111"/><circle cx="438" cy="1928" r="1.4" fill="#111"/><circle cx="423.5" cy="1927.5" r="1.2" fill="#111"/><circle cx="445.5" cy="1927.5" r="1.2" fill="#111"/><path d="M425.5,1939.5 L431.5,1939.5 L431.5,1953" fill="none" stroke="#555" stroke-width="2.2"/><path d="M435,1934 L435,1953" fill="none" stroke="#111" stroke-width="1.6"/><path d="M439,1940 L440,1939 L441,1940 L440,1944 Z" fill="#222"/><circle cx="423.5" cy="1939.5" r="1.3" fill="#111"/><g stroke="#111" stroke-width="3.6" stroke-linecap="round"><line x1="434.5" y1="1958.3" x2="447.4" y2="1972.6"/><line x1="430" y1="1963.2" x2="448.5" y2="1978.4"/><line x1="425.3" y1="1968.8" x2="445.4" y2="1986"/><line x1="420" y1="1973.4" x2="435" y2="1986"/></g>
<text x="460" y="1944.7" font-size="22" fill="#222" textLength="147" lengthAdjust="spacingAndGlyphs">GENERALITAT</text>
<text x="461.7" y="1967.3" font-size="22" fill="#222" textLength="141" lengthAdjust="spacingAndGlyphs">VALENCIANA</text>
<text x="461.7" y="1989" font-size="11" fill="#333" textLength="135" lengthAdjust="spacingAndGlyphs">Conselleria de Participació,</text>
<text x="461.7" y="2001" font-size="11" fill="#333" textLength="130" lengthAdjust="spacingAndGlyphs">Transparència, Cooperació</text>
<text x="461.7" y="2013.5" font-size="11" fill="#333" textLength="107" lengthAdjust="spacingAndGlyphs">i Qualitat Democràtica</text>
<text x="656.5" y="1954.7" font-size="21.5" fill="#222" textLength="634" lengthAdjust="spacingAndGlyphs">Aquesta publicació ha estat realitzada amb el suport financer de la</text>
<text x="656.5" y="1980" font-size="21.5" fill="#222" textLength="682" lengthAdjust="spacingAndGlyphs">Generalitat Valenciana, el seu contingut és responsabilitat exclusiva de</text>
<text x="656.5" y="2004.2" font-size="21.5" fill="#222" textLength="736" lengthAdjust="spacingAndGlyphs" xml:space="preserve">Perifèries del Món i no reflecteix necessàriament  l’opinió d’aquesta institució</text>
</svg></body></html>
